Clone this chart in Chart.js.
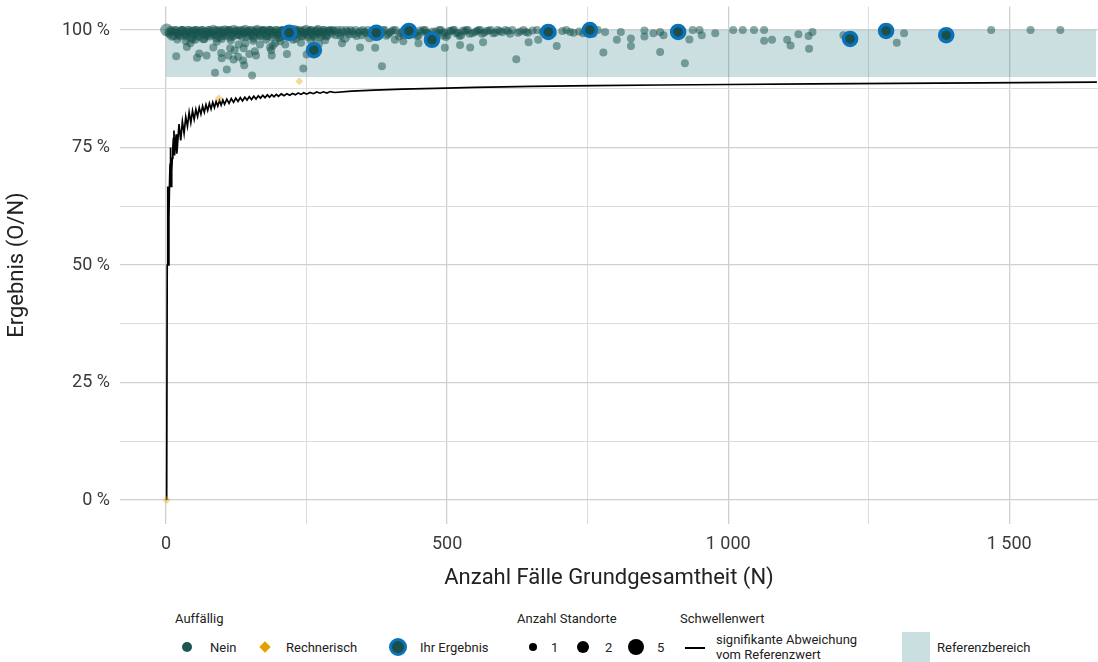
<!DOCTYPE html>
<html>
<head>
<meta charset="utf-8">
<script src="https://cdn.jsdelivr.net/npm/chart.js@4/dist/chart.umd.min.js"></script>
<style>
  body { margin: 0; background: #fff; }
  #wrap { position: relative; width: 1098px; height: 662px; font-family: Roboto, "DejaVu Sans", sans-serif; color: #222; }
  #chart { position: absolute; left: 0; top: 0; }
  .lt { position: absolute; font-size: 13px; white-space: nowrap; line-height: 15px; }
  .mk { position: absolute; }
</style>
</head>
<body>
<div id="wrap">
  <canvas id="chart" width="1098" height="600"></canvas>

  <div class="lt" style="left:175px;top:611px">Auffällig</div>
  <div class="mk" style="left:182px;top:642px;width:10px;height:10px;border-radius:50%;background:#1d5550"></div>
  <div class="lt" style="left:210px;top:640px">Nein</div>
  <div class="mk" style="left:261px;top:643px;width:8px;height:8px;background:#e69f00;transform:rotate(45deg)"></div>
  <div class="lt" style="left:286px;top:640px">Rechnerisch</div>
  <div class="mk" style="left:389px;top:638px;width:12px;height:12px;border-radius:50%;background:#1b4f4b;border:3px solid #0a72b8"></div>
  <div class="lt" style="left:420px;top:640px">Ihr Ergebnis</div>

  <div class="lt" style="left:517px;top:611px">Anzahl Standorte</div>
  <div class="mk" style="left:529px;top:643px;width:8px;height:8px;border-radius:50%;background:#000"></div>
  <div class="lt" style="left:551px;top:640px">1</div>
  <div class="mk" style="left:577px;top:641px;width:12px;height:12px;border-radius:50%;background:#000"></div>
  <div class="lt" style="left:605px;top:640px">2</div>
  <div class="mk" style="left:628px;top:639px;width:16px;height:16px;border-radius:50%;background:#000"></div>
  <div class="lt" style="left:657px;top:640px">5</div>

  <div class="lt" style="left:680px;top:611px">Schwellenwert</div>
  <div class="mk" style="left:685px;top:647px;width:20px;height:2px;background:#000"></div>
  <div class="lt" style="left:716px;top:632px">signifikante Abweichung</div>
  <div class="lt" style="left:716px;top:647px">vom Referenzwert</div>

  <div class="mk" style="left:902px;top:632px;width:28px;height:30px;background:#cadfe0"></div>
  <div class="lt" style="left:937px;top:640px">Referenzbereich</div>
</div>

<script>
// x: Anzahl Fälle (N), y: Ergebnis in %
var xGrid = [0, 250, 500, 750, 1000, 1250, 1500];
var xTickVals = [0, 500, 1000, 1500];
var xTickLabels = ['0', '500', '1 000', '1 500'];
var yGrid = [0, 12.5, 25, 37.5, 50, 62.5, 75, 87.5, 100];
var yTickVals = [0, 25, 50, 75, 100];
var yTickLabels = ['0 %', '25 %', '50 %', '75 %', '100 %'];

// Referenzbereich 90 - 100 %
var refN = [0, 1655];
var refLow = 90;
var refHigh = 100;

// Schwellenwert (signifikante Abweichung vom Referenzwert)
var thrN = [1, 2, 3, 4, 5, 6, 7, 8, 9, 10, 11, 12, 13, 14, 15, 16, 17, 18, 19, 20,
  23, 26, 29, 32, 35, 38, 41, 44, 47, 50, 53, 56, 59, 62, 65, 68, 71, 74, 77, 80, 83, 86, 89, 92, 95, 98, 101, 104,
  108, 112, 116, 120, 124, 128, 132, 136, 140, 144, 148, 152, 156, 160, 164, 168, 172, 176, 180, 184, 188, 192, 196, 200,
  205, 210, 215, 220, 225, 230, 235, 240, 245, 250,
  256, 262, 268, 274, 280, 286, 292, 300,
  330, 370, 420, 480, 550, 650, 760, 880, 1000, 1150, 1300, 1450, 1656];
var thrP = [0, 50, 66.7, 50, 60, 66.7, 71.4, 75, 66.7, 70, 72.7, 75, 76.9, 78.6, 73.3, 75, 76.5, 77.8, 73.7, 75,
  80, 76.5, 80.5, 78, 81.5, 79.5, 82.5, 80.3, 82.8, 81, 83.1, 81.6, 83.5, 82.1, 83.8, 82.5, 84.1, 82.9, 84.4, 83.2, 84.6, 83.5, 84.8, 83.8, 85, 84, 85.1, 84.2,
  85.3, 84.4, 85.4, 84.6, 85.5, 84.8, 85.6, 84.9, 85.7, 85.1, 85.8, 85.2, 85.9, 85.3, 86, 85.5, 86.1, 85.6, 86.2, 85.7, 86.25, 85.8, 86.3, 85.9,
  86.4, 86, 86.45, 86.1, 86.5, 86.2, 86.6, 86.3, 86.65, 86.35,
  86.7, 86.45, 86.8, 86.55, 86.85, 86.6, 86.9, 86.7,
  87, 87.2, 87.4, 87.6, 87.8, 88, 88.15, 88.3, 88.4, 88.55, 88.65, 88.75, 88.9];

// Auffällig: Nein (1 Standort)
var neinN1 = [4, 8, 14, 17, 21, 24, 30, 33, 36,
  39, 42, 48, 51, 54, 57, 60, 63, 69, 72,
  75, 78, 81, 87, 90, 93, 96, 99, 102, 108,
  111, 114, 117, 123, 126, 129, 132, 135, 138, 144,
  147, 150, 153, 156, 159, 165, 168, 171, 174, 177, 180,
  186, 189, 192, 195, 198, 201, 207, 210, 213, 216,
  219, 222, 225, 231, 234, 237, 240, 243, 246, 252,
  255, 258, 261, 264, 267, 273, 276, 279, 282, 285, 288,
  6, 10, 13, 16, 19, 22, 26, 29, 32, 35, 38, 41,
  44, 47, 50, 53, 56, 59, 62, 65, 68, 71, 74, 77,
  80, 83, 86, 89, 92, 95, 98, 101, 104, 107, 110, 113,
  116, 119, 122, 125, 128, 131, 134, 137, 140, 143, 146, 149,
  152, 155, 158, 161, 164, 167, 170, 173, 176, 179, 182, 185,
  188, 191, 194, 197, 200, 203, 206, 209, 212, 215, 218, 221,
  224, 227, 230, 233, 236, 239, 242, 245, 248, 251, 254, 257,
  260, 263, 266, 269, 272, 275, 278, 281, 284, 287, 290, 293,
  20, 35, 52, 68, 90, 99, 115, 129, 141, 155, 167, 178,
  194, 203, 212, 226, 240, 258, 272, 283,
  292, 297, 302, 307, 312, 323, 328, 334, 339, 345, 350,
  356, 367, 380, 386, 392, 398, 404, 414, 420, 440,
  446, 452, 458, 464, 470, 480, 486, 498, 504, 510, 516,
  522, 528, 534, 540,
  295, 300, 305, 310, 315, 320, 326, 331, 337, 342, 348, 353,
  359, 365, 371, 376, 383, 389, 395, 401, 408, 417, 423, 430,
  436, 443, 449, 455, 461, 467, 474, 483, 489, 495, 501, 507,
  513, 519, 525, 531, 537, 545, 553, 559, 566, 574, 582, 590,
  598, 608, 616, 626, 640, 660,
  550, 556, 562, 570, 578, 586, 594, 604, 612, 630, 636, 644,
  652, 670, 678, 688, 705, 712, 725, 735, 750, 760, 768,
  18, 37, 43, 47, 59, 55, 72, 84, 87, 98, 99, 108,
  111, 114, 120, 122, 128, 137, 139, 148, 138, 153, 158, 160,
  185, 187, 188, 190, 215, 244, 250, 313, 345, 372, 384, 407,
  422, 449, 496, 523, 541, 564, 623, 645, 662, 695, 719, 742,
  778, 802, 827, 827, 851, 879, 885, 923, 931, 953,
  781, 809, 851, 867, 879, 937, 949, 977, 1009, 1026, 1046, 1064,
  1064, 1078, 1105, 1111, 1125, 1144, 1143, 1150, 1205, 1300, 1313, 1468,
  1538, 1591];
var neinP1 = [99.5, 100, 99.6, 100, 99.2, 98.6, 100, 99.3, 98.9,
  100, 99.6, 99.9, 99.2, 100, 98.8, 99.5, 100, 99.7, 99.1,
  100, 98.6, 99.4, 99, 98.2, 99.8, 100, 99.3, 98.7, 99.5,
  100, 98.4, 99.2, 99.6, 98.9, 99.8, 100, 98.5, 99.3, 99.7,
  98.8, 99.4, 100, 98.2, 99.6, 99.1, 98.6, 99.9, 100, 99.3, 98.7,
  100, 98.4, 99.5, 100, 99, 98.3, 100, 99.2, 98.6, 99.9,
  100, 98.9, 99.5, 98.1, 99.4, 100, 99.7, 98.7, 99.2, 98.5,
  99.8, 100, 99.1, 98.4, 99.6, 99.3, 98.8, 100, 99.5, 98.6, 99.9,
  99.1, 99.8, 98.7, 100, 99.4, 98.9, 99.7, 100, 99, 98.6, 99.5, 100,
  99.2, 98.8, 99.9, 100, 99.4, 98.5, 99.7, 100, 99.1, 98.7, 99.6, 100,
  99.3, 98.9, 99.8, 100, 99, 98.4, 99.6, 100, 99.2, 98.8, 99.9, 100,
  99.4, 98.6, 99.7, 100, 99.1, 98.9, 99.5, 100, 99.3, 98.5, 99.8, 100,
  99, 98.7, 99.6, 100, 99.4, 98.8, 99.9, 100, 99.2, 98.6, 99.7, 100,
  99.3, 98.9, 99.5, 100, 99.1, 98.4, 99.8, 100, 99.4, 98.7, 99.6, 100,
  99.2, 98.8, 99.9, 100, 99, 98.6, 99.7, 100, 99.3, 98.9, 99.5, 100,
  99.1, 98.7, 99.8, 100, 99.4, 98.5, 99.6, 100, 99.2, 98.8, 99.9, 100,
  98, 97.6, 97.9, 98.1, 97.5, 98.1, 97.8, 96.9, 97.2, 97.7, 96.9, 97.9,
  97.2, 97.6, 96.9, 97.9, 97.3, 97.7, 97.1, 97.8,
  99.6, 100, 98.9, 99.4, 100, 99.7, 100, 99.1, 98.7, 99.8, 100,
  99.3, 99.9, 99.6, 100, 98.8, 99.4, 100, 98.6, 99.7, 99.2,
  98.7, 99.9, 100, 99.4, 98.9, 99.7, 100, 98.5, 99.8, 100, 99.3,
  98.7, 99.9, 100, 99.2,
  99.2, 99.8, 100, 98.8, 99.5, 100, 99.1, 99.7, 100, 99.4, 98.9, 99.6,
  100, 99.2, 99.8, 98.7, 99.4, 100, 99.1, 99.7, 100, 99.3, 98.9, 99.8,
  100, 99.4, 98.8, 99.6, 100, 99.2, 99.7, 99.1, 100, 99.5, 98.9, 99.8,
  100, 99.4, 98.9, 99.7, 100, 99.3, 99.8, 100, 99.4, 99.9, 99.3, 100,
  99.5, 99.8, 100, 99.4, 99.6, 100,
  99.6, 100, 99.2, 99.8, 100, 99.4, 99.8, 100, 99.2, 99.7, 100, 99.4,
  99.9, 99.5, 100, 99.3, 99.8, 100, 99.4, 99.7, 99.8, 99.2, 100,
  94.4, 96.4, 97.2, 97.9, 95, 94.1, 94.6, 96.3, 90.9, 95.1, 94, 91.6,
  94.6, 96.1, 93.7, 95.7, 94.3, 93.5, 92.5, 94.9, 96.1, 90.3, 95.5, 94.6,
  96.3, 95.7, 94.6, 96.7, 94.9, 91.8, 94.8, 97.2, 96.3, 96.2, 92.3, 97.9,
  97.6, 97.2, 96.2, 96.8, 96.3, 97.4, 93.8, 97.4, 97.9, 96.6, 99.6, 99.3,
  95.2, 97.9, 98.2, 96.6, 98.6, 95.3, 98.9, 92.9, 98, 98.9,
  99.6, 99.6, 99.9, 99.3, 99.6, 100, 100, 99.3, 100, 100, 100, 100,
  97.7, 97.9, 97.9, 96.7, 99.1, 96, 98.7, 99.6, 98.9, 97.3, 99.3, 100,
  100, 100];

// Auffällig: Nein (2 Standorte)
var neinN2 = [11, 27, 45, 66, 84, 105, 120, 141, 162, 183, 204, 228, 249, 270, 318, 362, 426, 492];
var neinP2 = [98.8, 99.8, 98.5, 98.3, 100, 99.9, 100, 100, 100, 99.8, 99.7, 100, 100, 100, 98.4, 98.5, 100, 99.1];

// Auffällig: Nein (5 Standorte)
var neinN5 = [1];
var neinP5 = [100];

// Auffällig: Rechnerisch
var rechN = [1, 94, 237];
var rechP = [0, 85.5, 89.1];

// Ihr Ergebnis
var ihrN = [219, 263, 374, 432, 473, 680, 754, 911, 1217, 1281, 1388];
var ihrP = [99.4, 95.7, 99.4, 99.8, 97.9, 99.6, 100, 99.6, 98.1, 99.8, 98.9];

function pts(xs, ys) {
  return xs.map(function (x, i) { return { x: x, y: ys[i] }; });
}

var neinColor = 'rgba(24, 84, 78, 0.5)';
var tickColor = '#3a3a3a';

// drop the automatic label padding so the plot area matches the reference
function noPad(scale) {
  scale.paddingTop = 0;
  scale.paddingBottom = 0;
  scale.paddingLeft = 0;
  scale.paddingRight = 0;
}

Chart.defaults.font.family = 'Roboto, "DejaVu Sans", sans-serif';

new Chart(document.getElementById('chart'), {
  type: 'scatter',
  data: {
    datasets: [
      {
        type: 'line',
        data: pts(refN, refN.map(function () { return refHigh; })),
        fill: { value: refLow },
        backgroundColor: 'rgba(31, 111, 120, 0.23)',
        borderWidth: 0,
        pointRadius: 0,
        order: 6
      },
      {
        type: 'line',
        data: pts(thrN, thrP),
        borderColor: '#000',
        borderWidth: 1.7,
        pointRadius: 0,
        fill: false,
        tension: 0,
        order: 5
      },
      {
        data: pts(rechN, rechP),
        pointStyle: 'rectRot',
        pointRadius: 4,
        backgroundColor: 'rgba(230, 159, 0, 0.4)',
        borderWidth: 0,
        order: 4
      },
      {
        data: pts(neinN1, neinP1),
        pointRadius: 4,
        backgroundColor: neinColor,
        borderWidth: 0,
        order: 3
      },
      {
        data: pts(neinN2, neinP2),
        pointRadius: 5.2,
        backgroundColor: neinColor,
        borderWidth: 0,
        order: 3
      },
      {
        data: pts(neinN5, neinP5),
        pointRadius: 6.5,
        backgroundColor: neinColor,
        borderWidth: 0,
        order: 3
      },
      {
        data: pts(ihrN, ihrP),
        pointRadius: 6.5,
        backgroundColor: '#1b4f4b',
        borderColor: '#0a72b8',
        borderWidth: 3.5,
        order: 1
      }
    ]
  },
  options: {
    responsive: false,
    animation: false,
    events: [],
    layout: { autoPadding: false, padding: { top: 6.5, right: 0, left: 0, bottom: 0 } },
    plugins: {
      legend: { display: false },
      tooltip: { enabled: false }
    },
    scales: {
      x: {
        type: 'linear',
        min: -82,
        max: 1658,
        afterBuildTicks: function (scale) {
          scale.ticks = xGrid.map(function (v) { return { value: v }; });
        },
        afterFit: function (scale) {
          scale.height = 76.5;
          noPad(scale);
        },
        ticks: {
          autoSkip: false,
          maxRotation: 0,
          padding: 10,
          color: tickColor,
          font: { size: 18 },
          callback: function (value) {
            var i = xTickVals.indexOf(value);
            return i < 0 ? '' : xTickLabels[i];
          }
        },
        grid: {
          drawTicks: false,
          color: function (ctx) {
            return ctx.tick && xTickVals.indexOf(ctx.tick.value) >= 0 ? '#d0d0d0' : '#dcdcdc';
          },
          lineWidth: function (ctx) {
            return ctx.tick && xTickVals.indexOf(ctx.tick.value) >= 0 ? 1.3 : 1;
          }
        },
        border: { display: false },
        title: {
          display: true,
          text: 'Anzahl Fälle Grundgesamtheit (N)',
          color: '#222',
          font: { size: 22 },
          padding: { top: 0, bottom: 8 }
        }
      },
      y: {
        min: -5,
        max: 105,
        afterBuildTicks: function (scale) {
          scale.ticks = yGrid.map(function (v) { return { value: v }; });
        },
        afterFit: function (scale) {
          scale.width = 120;
          noPad(scale);
        },
        ticks: {
          autoSkip: false,
          padding: 10,
          color: tickColor,
          font: { size: 18 },
          callback: function (value) {
            var i = yTickVals.indexOf(value);
            return i < 0 ? '' : yTickLabels[i];
          }
        },
        grid: {
          drawTicks: false,
          color: function (ctx) {
            return ctx.tick && yTickVals.indexOf(ctx.tick.value) >= 0 ? '#d0d0d0' : '#dcdcdc';
          },
          lineWidth: function (ctx) {
            return ctx.tick && yTickVals.indexOf(ctx.tick.value) >= 0 ? 1.3 : 1;
          }
        },
        border: { display: false },
        title: {
          display: true,
          text: 'Ergebnis (O/N)',
          color: '#222',
          font: { size: 22 },
          padding: { top: 4, bottom: 4 }
        }
      }
    }
  }
});
</script>
</body>
</html>
